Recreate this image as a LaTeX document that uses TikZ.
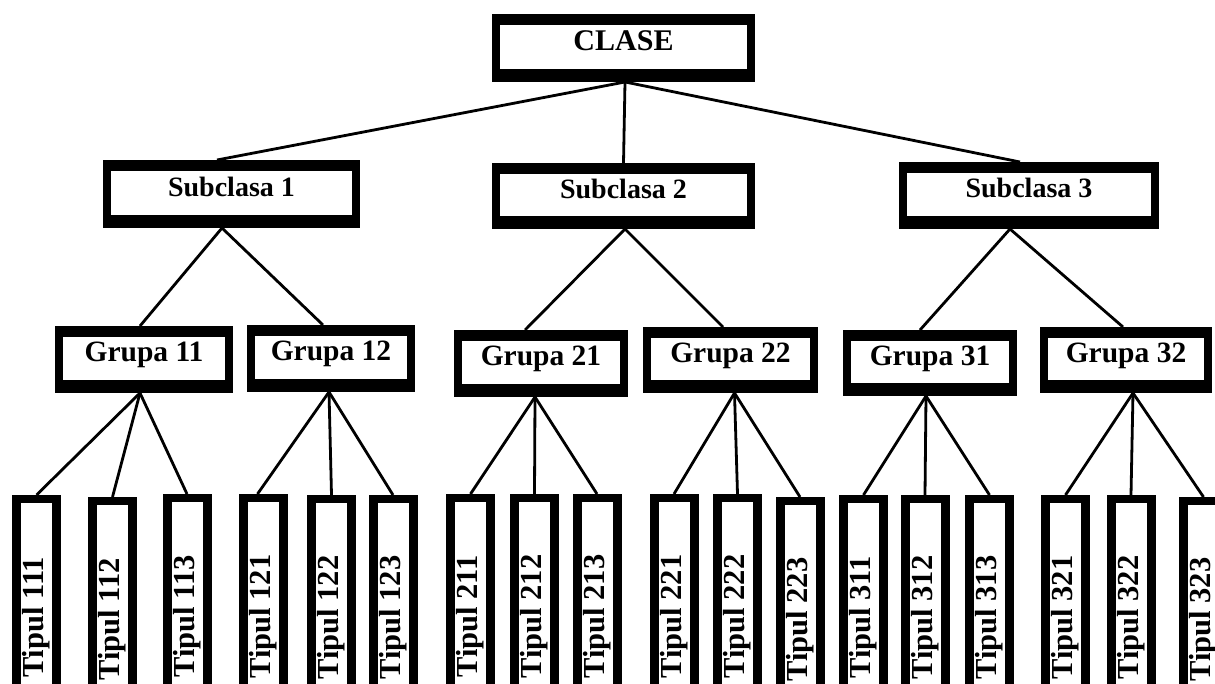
\documentclass[tikz,border=0pt]{standalone}
\usepackage{fontspec}
\setmainfont{Liberation Serif}
\usepackage{graphicx}
\begin{document}
\begin{tikzpicture}[x=1pt,y=-1pt,
  % black frame with a white inner panel
  framed/.style={fill=black, inner sep=0pt, outer sep=0pt,
    text height=0.7em, text depth=0.25em,
    path picture={\fill[white]
      ([shift={(8pt,-11pt)}]path picture bounding box.north west) rectangle
      ([shift={(-8pt,13pt)}]path picture bounding box.south east);}},
  rootbox/.style={framed, font=\fontsize{30}{34}\selectfont\bfseries},
  subbox/.style={framed, font=\fontsize{28}{32}\selectfont\bfseries},
  groupbox/.style={framed, font=\fontsize{29.5}{33}\selectfont\bfseries},
  leafbox/.style={fill=black, inner sep=0pt, outer sep=0pt, anchor=north,
    minimum width=49pt, minimum height=210pt,
    font=\fontsize{30.5}{34}\selectfont\bfseries,
    path picture={\fill[white]
      ([shift={(9pt,-8pt)}]path picture bounding box.north west) rectangle
      ([shift={(-9pt,0pt)}]path picture bounding box.south east);}},
  link/.style={line width=2.8pt, draw=black}
]
\useasboundingbox (0,0) rectangle (1215,684);
\fill[white] (0,0) rectangle (1215,684);
\clip (0,0) rectangle (1215,684);

% root
\node[rootbox, minimum width=263pt, minimum height=68pt] (clase) at (623.5,48) {CLASE\hspace{42pt}};

% subclasses
\node[subbox, minimum width=257pt, minimum height=68pt] (s1) at (231.5,194) {Subclasa 1\hspace{30pt}};
\node[subbox, minimum width=263pt, minimum height=66pt] (s2) at (623.5,196) {Subclasa 2\hspace{18pt}};
\node[subbox, minimum width=260pt, minimum height=67pt] (s3) at (1029,195.5) {Subclasa 3\hspace{18pt}};

% groups
\node[groupbox, minimum width=178pt, minimum height=67pt] (g11) at (144,359.5) {Grupa 11\hspace{20pt}};
\node[groupbox, minimum width=168pt, minimum height=67pt] (g12) at (331,358.5) {Grupa 12\hspace{4pt}};
\node[groupbox, minimum width=174pt, minimum height=67pt] (g21) at (541,363.5) {Grupa 21\hspace{30pt}};
\node[groupbox, minimum width=175pt, minimum height=66pt] (g22) at (730.5,360) {Grupa 22\hspace{18pt}};
\node[groupbox, minimum width=174pt, minimum height=66pt] (g31) at (930,363) {Grupa 31\hspace{30pt}};
\node[groupbox, minimum width=172pt, minimum height=66pt] (g32) at (1126,360) {Grupa 32\hspace{30pt}};

% types (vertical boxes, running past the lower edge)
\foreach \n/\cx/\ty in {111/36.5/495, 112/112.5/497, 113/187/494,
                        121/263.5/494, 122/331.5/495, 123/393/495,
                        211/470.5/494, 212/534.5/494, 213/597/494,
                        221/674/494, 222/737.5/494, 223/800/497,
                        311/863.5/495, 312/925/495, 313/989.5/495,
                        321/1065.5/495, 322/1131/495, 323/1203.5/497}
  \node[leafbox] (t\n) at (\cx,\ty) {\rotatebox{90}{Tipul \n\hspace{35pt}}};

% root to subclasses
\draw[link] ([xshift=1.5pt]clase.south) -- ([xshift=-14.5pt]s1.north);
\draw[link] ([xshift=1.5pt]clase.south) -- (s2.north);
\draw[link] ([xshift=1.5pt]clase.south) -- ([xshift=-9pt]s3.north);

% subclasses to groups
\draw[link] ([xshift=-9.5pt]s1.south) -- ([xshift=-4pt]g11.north);
\draw[link] ([xshift=-9.5pt]s1.south) -- ([xshift=-8pt]g12.north);
\draw[link] ([xshift=1.5pt]s2.south) -- ([xshift=-16pt]g21.north);
\draw[link] ([xshift=1.5pt]s2.south) -- ([xshift=-7.5pt]g22.north);
\draw[link] ([xshift=-19pt]s3.south) -- ([xshift=-10pt]g31.north);
\draw[link] ([xshift=-19pt]s3.south) -- ([xshift=-3pt]g32.north);

% groups to types
\draw[link] ([xshift=-4pt]g11.south) -- (t111.north);
\draw[link] ([xshift=-4pt]g11.south) -- (t112.north);
\draw[link] ([xshift=-4pt]g11.south) -- (t113.north);
\draw[link] ([xshift=-2pt]g12.south) -- ([xshift=-6pt]t121.north);
\draw[link] ([xshift=-2pt]g12.south) -- (t122.north);
\draw[link] ([xshift=-2pt]g12.south) -- (t123.north);
\draw[link] ([xshift=-6pt]g21.south) -- (t211.north);
\draw[link] ([xshift=-6pt]g21.south) -- (t212.north);
\draw[link] ([xshift=-6pt]g21.south) -- (t213.north);
\draw[link] ([xshift=4pt]g22.south) -- (t221.north);
\draw[link] ([xshift=4pt]g22.south) -- (t222.north);
\draw[link] ([xshift=4pt]g22.south) -- (t223.north);
\draw[link] ([xshift=-4pt]g31.south) -- (t311.north);
\draw[link] ([xshift=-4pt]g31.south) -- (t312.north);
\draw[link] ([xshift=-4pt]g31.south) -- (t313.north);
\draw[link] ([xshift=7pt]g32.south) -- (t321.north);
\draw[link] ([xshift=7pt]g32.south) -- (t322.north);
\draw[link] ([xshift=7pt]g32.south) -- (t323.north);
\end{tikzpicture}
\end{document}
